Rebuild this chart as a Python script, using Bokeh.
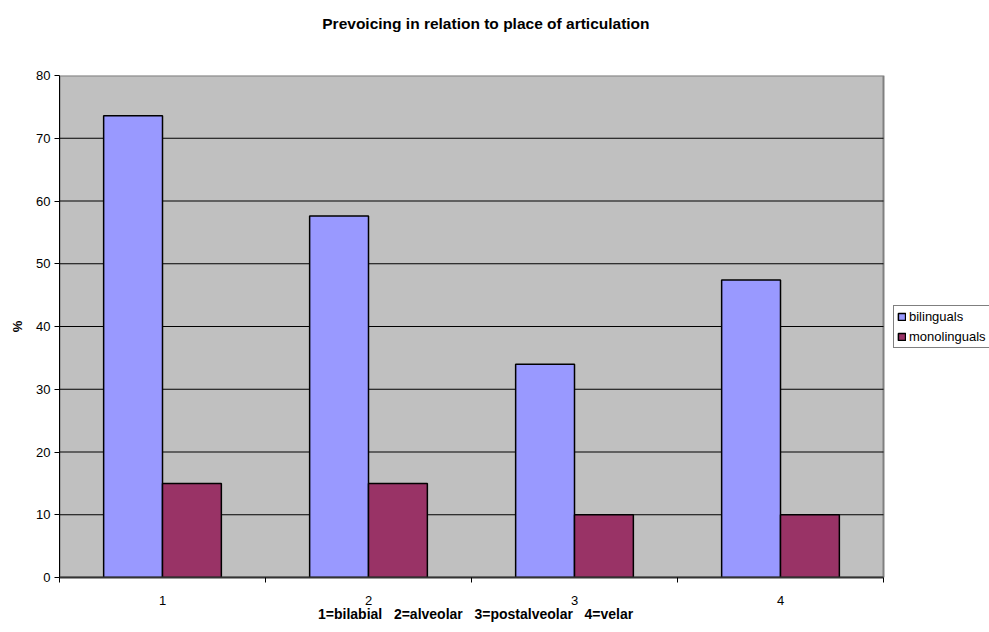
from bokeh.plotting import figure
from bokeh.models import (FixedTicker, Legend, LegendItem, LinearAxis, Range1d,
                          ColumnDataSource)
from bokeh.transform import dodge
from bokeh.embed import file_html
from bokeh.resources import INLINE

# Place of articulation (1=bilabial, 2=alveolar, 3=postalveolar, 4=velar)
places = [1, 2, 3, 4]
bilinguals = [73.6, 57.6, 34.0, 47.4]
monolinguals = [15.0, 15.0, 10.0, 10.0]
y_ticks = [0, 10, 20, 30, 40, 50, 60, 70, 80]
group_edges = [0.5, 1.5, 2.5, 3.5, 4.5]

TITLE = "Prevoicing in relation to place of articulation"
X_TITLE = "1=bilabial\u00a0\u00a0 2=alveolar\u00a0\u00a0 3=postalveolar\u00a0\u00a0 4=velar"

FONT = "Liberation Sans"
BAR_W = 1 / 3.5          # two bars per group with a 150% gap
GROUP_PX = 206           # pixel width of one category group
FRAME_PX = 930           # frame runs to the right edge so the legend fits
TITLE_X = 2.57           # horizontal anchor of the chart title (data units)
X_TITLE_X = 2.52         # horizontal anchor of the x-axis title (data units)

src = ColumnDataSource(dict(place=places, bil=bilinguals, mono=monolinguals))

p = figure(width=989, height=632, output_backend="svg", toolbar_location=None,
           x_range=Range1d(0.5, 0.5 + FRAME_PX / GROUP_PX),
           y_range=Range1d(0, 80),
           min_border_left=59, min_border_right=0,
           min_border_top=75, min_border_bottom=55,
           background_fill_color="white", border_fill_color="white",
           outline_line_color=None)
p.title = None
p.xgrid.visible = False
p.ygrid.visible = False

# grey plot area with its outline
p.quad(left=group_edges[0], right=group_edges[-1], bottom=y_ticks[0],
       top=y_ticks[-1], fill_color="#C0C0C0", line_color="#808080",
       line_width=2)
# horizontal grid lines
inner = y_ticks[1:-1]
p.segment(x0=[group_edges[0]] * len(inner), x1=[group_edges[-1]] * len(inner),
          y0=inner, y1=inner, line_color="black", line_width=1)

r_bil = p.vbar(x=dodge("place", -BAR_W / 2, range=p.x_range), top="bil",
               width=BAR_W, source=src, fill_color="#9999FF",
               line_color="black", line_width=1.5)
r_mono = p.vbar(x=dodge("place", BAR_W / 2, range=p.x_range), top="mono",
                width=BAR_W, source=src, fill_color="#993366",
                line_color="black", line_width=1.5)

# y axis
p.yaxis.ticker = FixedTicker(ticks=y_ticks)
p.yaxis.axis_label = "%"
p.yaxis.axis_label_text_font = FONT
p.yaxis.axis_label_text_font_size = "13px"
p.yaxis.axis_label_text_font_style = "bold"
p.yaxis.axis_label_text_color = "black"
p.yaxis.axis_label_standoff = 8
p.yaxis.major_label_text_font = FONT
p.yaxis.major_label_text_font_size = "13px"
p.yaxis.major_label_text_color = "black"
p.yaxis.major_tick_in = 0
p.yaxis.major_tick_out = 5
p.yaxis.minor_tick_line_color = None
p.yaxis.axis_line_color = "black"
p.yaxis.major_label_standoff = 4

# x axis: labels at group centres, tick marks at group boundaries
xa = p.xaxis[0]
xa.bounds = (group_edges[0], group_edges[-1])
xa.ticker = FixedTicker(ticks=places, minor_ticks=group_edges)
xa.major_tick_line_color = None
xa.minor_tick_in = 0
xa.minor_tick_out = 5
xa.minor_tick_line_color = "black"
xa.axis_line_color = "#333333"
xa.axis_line_width = 2
xa.major_label_text_font = FONT
xa.major_label_text_font_size = "13px"
xa.major_label_text_color = "black"
xa.major_label_standoff = 12


def text_axis(text, x, size, standoff):
    """A bare axis carrying a single label, used for titles outside the frame."""
    ax = LinearAxis(ticker=FixedTicker(ticks=[x], minor_ticks=[]),
                    major_label_overrides={x: text},
                    axis_line_color=None, major_tick_line_color=None,
                    minor_tick_line_color=None, major_tick_out=0,
                    major_tick_in=0, major_label_standoff=standoff,
                    major_label_text_font=FONT, major_label_text_font_size=size,
                    major_label_text_font_style="bold",
                    major_label_text_color="black")
    return ax


p.add_layout(text_axis(X_TITLE, X_TITLE_X, "14px", -2), "below")
p.add_layout(text_axis(TITLE, TITLE_X, "15.5px", 44), "above")

legend = Legend(items=[LegendItem(label="bilinguals", renderers=[r_bil]),
                       LegendItem(label="monolinguals", renderers=[r_mono])],
                location=(834, 229), orientation="vertical",
                label_text_font=FONT, label_text_font_size="13px",
                label_text_color="black",
                glyph_width=9, glyph_height=9, label_standoff=3,
                label_height=14, spacing=5, padding=3, margin=0,
                border_line_color="black", border_line_width=1,
                background_fill_color="white", background_fill_alpha=1)
p.add_layout(legend, "center")

open("out.html", "w").write(file_html(p, INLINE))
